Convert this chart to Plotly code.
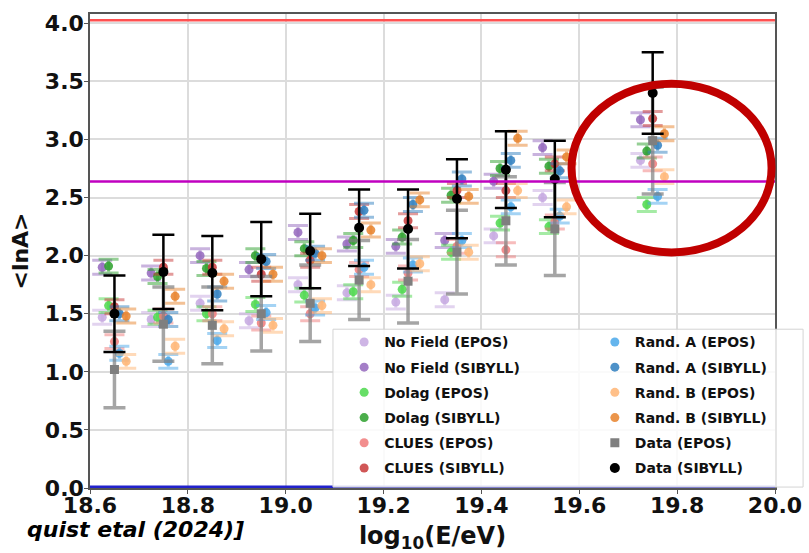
import math
import plotly.graph_objects as go

# ---------------- data ----------------
energy_bins = [18.65, 18.75, 18.85, 18.95, 19.05, 19.15, 19.25, 19.35, 19.45, 19.55, 19.75]

nofield_epos   = [1.47, 1.45, 1.59, 1.44, 1.75, 1.68, 1.60, 1.62, 2.17, 2.50, 2.82]
nofield_sibyll = [1.90, 1.85, 2.00, 1.88, 2.20, 2.10, 2.08, 2.13, 2.64, 2.93, 3.17]
dolag_epos     = [1.57, 1.47, 1.50, 1.58, 1.66, 1.69, 1.71, 2.03, 2.28, 2.25, 2.44]
dolag_sibyll   = [1.91, 1.82, 1.89, 2.00, 2.06, 2.13, 2.16, 2.52, 2.75, 2.77, 2.90]
clues_epos     = [1.26, 1.48, 1.50, 1.42, 1.50, 1.88, 1.85, 2.08, 2.05, 2.29, 2.79]
clues_sibyll   = [1.56, 1.90, 1.90, 1.84, 1.96, 2.38, 2.30, 2.56, 2.56, 2.79, 3.18]
randa_epos     = [1.16, 1.09, 1.27, 1.51, 1.55, 1.90, 1.92, 2.13, 2.42, 2.34, 2.51]
randa_sibyll   = [1.50, 1.45, 1.67, 1.95, 2.02, 2.39, 2.44, 2.66, 2.82, 2.73, 2.95]
randb_epos     = [1.09, 1.22, 1.37, 1.40, 1.57, 1.75, 1.93, 2.03, 2.56, 2.42, 2.68]
randb_sibyll   = [1.48, 1.65, 1.78, 1.84, 2.00, 2.22, 2.48, 2.51, 3.01, 2.85, 3.05]
data_epos      = [1.02, 1.41, 1.40, 1.50, 1.59, 1.79, 1.78, 2.03, 2.30, 2.23, 2.99]
data_sibyll    = [1.50, 1.86, 1.85, 1.97, 2.04, 2.24, 2.23, 2.49, 2.74, 2.66, 3.40]

data_epos_err   = [0.33, 0.32, 0.33, 0.32, 0.33, 0.34, 0.36, 0.36, 0.38, 0.40, 0.46]
data_sibyll_err = [0.33, 0.32, 0.32, 0.32, 0.32, 0.33, 0.34, 0.34, 0.33, 0.33, 0.35]
sim_err = 0.06

# reference masses: proton, nitrogen, iron
ref_mass_numbers = [1, 14, 56]
ref_line_colors = ["#2222cc", "#c000c0", "#ff5050"]

x_range = [18.6, 20.0]
y_range = [0.0, 4.08]
x_ticks = [18.6, 18.8, 19.0, 19.2, 19.4, 19.6, 19.8, 20.0]
y_ticks = [0.0, 0.5, 1.0, 1.5, 2.0, 2.5, 3.0, 3.5, 4.0]

FONT = "DejaVu Sans"

def rgba(hexc, a):
    h = hexc.lstrip("#")
    r, g, b = int(h[0:2], 16), int(h[2:4], 16), int(h[4:6], 16)
    return f"rgba({r},{g},{b},{a})"

# name, values, errors, color, symbol, x-offset, legend, legend row
series = [
    ("No Field (EPOS)",   nofield_epos,   None, "#c5a8e0", "circle", -0.025, "legend", 0),
    ("No Field (SIBYLL)", nofield_sibyll, None, "#9467bd", "circle", -0.025, "legend", 1),
    ("Dolag (EPOS)",      dolag_epos,     None, "#4cd84c", "circle", -0.012, "legend", 2),
    ("Dolag (SIBYLL)",    dolag_sibyll,   None, "#2ca02c", "circle", -0.012, "legend", 3),
    ("CLUES (EPOS)",      clues_epos,     None, "#f07a7a", "circle",  0.000, "legend", 4),
    ("CLUES (SIBYLL)",    clues_sibyll,   None, "#c83838", "circle",  0.000, "legend", 5),
    ("Rand. A (EPOS)",    randa_epos,     None, "#4aa8ea", "circle",  0.010, "legend2", 0),
    ("Rand. A (SIBYLL)",  randa_sibyll,   None, "#2f7fbf", "circle",  0.010, "legend2", 1),
    ("Rand. B (EPOS)",    randb_epos,     None, "#ffb574", "circle",  0.024, "legend2", 2),
    ("Rand. B (SIBYLL)",  randb_sibyll,   None, "#e8832c", "circle",  0.024, "legend2", 3),
    ("Data (EPOS)",       data_epos,      data_epos_err,   "#7f7f7f", "square", 0.0, "legend2", 4),
    ("Data (SIBYLL)",     data_sibyll,    data_sibyll_err, "#000000", "circle", 0.0, "legend2", 5),
]

fig = go.Figure()

for name, vals, errs, color, symbol, off, leg, row in series:
    is_data = errs is not None
    if is_data:
        err_arr = errs
        ecol = color if color == "#000000" else rgba(color, 0.7)
        thick = 2.5 if color == "#000000" else 3.5
        msize = 10 if color == "#000000" else 9
        mcol = color
        cap = 11
    else:
        err_arr = [sim_err] * len(vals)
        ecol = rgba(color, 0.5)
        thick = 3
        msize = 9
        mcol = rgba(color, 0.85)
        cap = 10
    fig.add_trace(go.Scatter(
        x=[e + off for e in energy_bins], y=vals, mode="markers", name=name,
        marker=dict(color=mcol, size=msize, symbol=symbol, line=dict(width=0)),
        error_y=dict(type="data", array=err_arr, color=ecol, thickness=thick, width=cap),
        legend=leg, legendgroup=name, legendrank=row + 1,
    ))

# lnA reference lines
for A, c in zip(ref_mass_numbers, ref_line_colors):
    fig.add_hline(y=math.log(A), line=dict(color=c, width=2.5 if A > 1 else 5), layer="above")

# highlight ellipse
fig.add_shape(type="circle", xref="paper", yref="paper",
              x0=0.703, x1=0.995, y0=0.497, y1=0.853,
              line=dict(color="#c00000", width=8), layer="above")

# legend frame
fig.add_shape(type="rect", xref="paper", yref="paper",
              x0=0.3547, x1=1.041, y0=0.002, y1=0.335,
              fillcolor="rgba(255,255,255,0.85)", line=dict(color="#d4d4d4", width=1),
              layer="above")

fig.add_annotation(text="quist etal (2024)]", xref="paper", yref="paper",
                   x=0.228, y=-0.087, xanchor="right", yanchor="middle", showarrow=False,
                   font=dict(family=FONT, size=22, color="#000", weight="bold", style="italic"))

legend_common = dict(
    orientation="v", xanchor="left", yanchor="top",
    bgcolor="rgba(0,0,0,0)", borderwidth=0, tracegroupgap=4,
    font=dict(family=FONT, size=14, color="#111", weight="bold"),
    itemclick=False,
)

fig.update_layout(
    width=809, height=553,
    margin=dict(l=90, r=34, t=14, b=65, autoexpand=False),
    paper_bgcolor="white", plot_bgcolor="white",
    showlegend=True,
    legend=dict(x=0.371, y=0.341, **legend_common),
    legend2=dict(x=0.737, y=0.341, **legend_common),
    xaxis=dict(
        range=x_range, tickvals=x_ticks, ticktext=[f"{v:.1f}" for v in x_ticks],
        showgrid=True, gridcolor="#dcdcdc", gridwidth=1.5, automargin=False,
        showline=True, linecolor="#555", linewidth=1.5, mirror=True,
        ticks="outside", ticklen=4, tickcolor="#555", zeroline=False,
        ticklabelstandoff=-7,
        tickfont=dict(family=FONT, size=22, color="#111", weight="bold"),
        title=dict(text="log<sub>10</sub>(E/eV)", standoff=11,
                   font=dict(family=FONT, size=24, color="#111", weight="bold")),
    ),
    yaxis=dict(
        range=y_range, tickvals=y_ticks, ticktext=[f"{v:.1f}" for v in y_ticks],
        showgrid=True, gridcolor="#dcdcdc", gridwidth=1.5, automargin=False,
        showline=True, linecolor="#555", linewidth=1.5, mirror=True,
        ticks="outside", ticklen=4, tickcolor="#555", zeroline=False,
        ticklabelstandoff=-4,
        tickfont=dict(family=FONT, size=22, color="#111", weight="bold"),
        title=dict(text="&lt;lnA&gt;", standoff=10,
                   font=dict(family=FONT, size=22, color="#111", weight="bold")),
    ),
)

fig.write_html("out.html")
